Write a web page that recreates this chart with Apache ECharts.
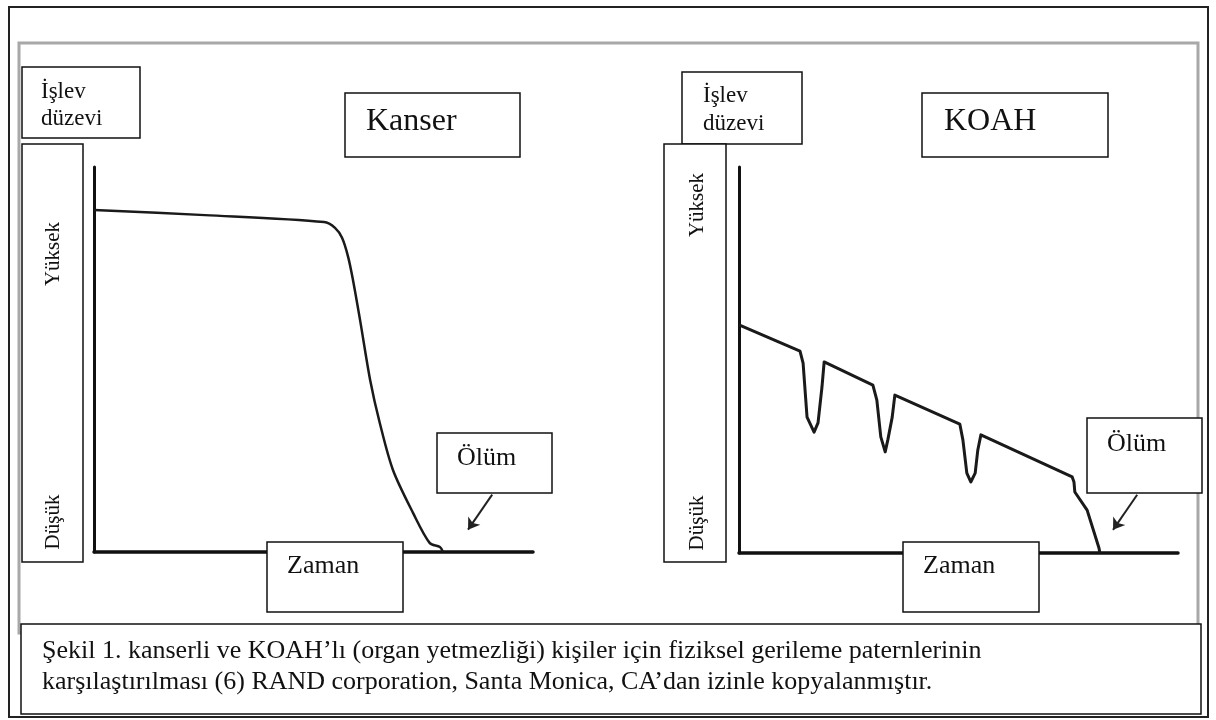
<!DOCTYPE html>
<html>
<head>
<meta charset="utf-8">
<title>Kanser / KOAH</title>
<script src="https://cdn.jsdelivr.net/npm/echarts@6/dist/echarts.min.js"></script>
<style>
  html, body { margin: 0; padding: 0; background: #fff; }
  #main { width: 1216px; height: 720px; }
</style>
</head>
<body>
<div id="main"></div>
<script>
// egriler: zaman (0-100) ve islev duzeyi (0-100)
var kanserZaman = [0, 25.3, 52.4, 54.9, 56.5, 57.9, 59.0, 60.6, 62.9, 65.1, 68.1, 72.7, 76.5, 78.8, 79.5];
var kanserIslev = [88.8, 87.5, 85.7, 84.2, 81.6, 76.6, 70.6, 60.3, 44.7, 33.5, 21.3, 10.1, 2.3, 1.3, 0];

var koahZaman = [0, 13.9, 14.6, 15.5, 17.1, 18.0, 18.9, 19.4, 30.5, 31.4, 32.3, 33.3, 33.9, 34.9, 35.5,
                 50.3, 51.0, 51.9, 52.8, 53.8, 54.4, 55.1, 75.9, 76.3, 76.5, 79.3, 82.0, 82.2];
var koahIslev = [59.1, 52.3, 49.2, 35.2, 31.3, 33.7, 43.0, 49.5, 43.5, 39.6, 30.1, 26.2, 29.3, 35.2, 40.9,
                 33.4, 29.3, 20.7, 18.4, 20.7, 26.7, 30.6, 19.7, 18.4, 15.8, 11.1, 1.3, 0];

// olum oku (baslangic, bitis)
var okZaman = [90.7, 85.2];
var okIslev = [14.9, 5.8];

var baslik = ['Kanser', 'KOAH'];
var altYazi = [
  'Şekil 1. kanserli ve KOAH’lı (organ yetmezliği) kişiler için fiziksel gerileme paternlerinin',
  'karşılaştırılması (6) RAND corporation, Santa Monica, CA’dan izinle kopyalanmıştır.'
];

var SERIF = '"Liberation Serif", "Times New Roman", serif';

function pairs(xs, ys) {
  var out = [];
  for (var i = 0; i < xs.length; i++) out.push([xs[i], ys[i]]);
  return out;
}

function kutu(x, y, w, h) {
  return { type: 'rect', z: 10, shape: { x: x, y: y, width: w, height: h },
           style: { fill: '#fff', stroke: '#111', lineWidth: 1.5 } };
}
function yazi(x, y, t, size, rot) {
  return { type: 'text', z: 11, x: x, y: y, rotation: rot || 0,
           style: { text: t, fill: '#111', font: size + 'px ' + SERIF,
                    textAlign: rot ? 'center' : 'left', align: rot ? 'center' : 'left',
                    textVerticalAlign: 'middle', verticalAlign: 'middle' } };
}

var eksen = function (gi, w) {
  return {
    gridIndex: gi, type: 'value', min: 0, max: 100,
    axisLine: { show: true, onZero: false, lineStyle: { color: '#111', width: w } },
    axisTick: { show: false }, axisLabel: { show: false }, splitLine: { show: false }
  };
};

var option = {
  backgroundColor: '#fff',
  animation: false,
  grid: [
    { left: 94, top: 167, width: 439, height: 385 },
    { left: 739, top: 167, width: 439, height: 386 }
  ],
  xAxis: [eksen(0, 3.5), eksen(1, 3.5)],
  yAxis: [eksen(0, 3), eksen(1, 3)],
  series: [
    {
      type: 'line', xAxisIndex: 0, yAxisIndex: 0, smooth: 0.3, symbol: 'none',
      data: pairs(kanserZaman, kanserIslev),
      lineStyle: { color: '#1a1a1a', width: 2.5 },
      markLine: {
        silent: true, symbol: ['none', 'arrow'], symbolSize: 11, label: { show: false },
        lineStyle: { color: '#222', width: 2, type: 'solid' },
        data: [[{ coord: [okZaman[0], okIslev[0]] }, { coord: [okZaman[1], okIslev[1]] }]]
      }
    },
    {
      type: 'line', xAxisIndex: 1, yAxisIndex: 1, smooth: false, symbol: 'none',
      data: pairs(koahZaman, koahIslev),
      lineStyle: { color: '#1a1a1a', width: 3, join: 'round' },
      markLine: {
        silent: true, symbol: ['none', 'arrow'], symbolSize: 11, label: { show: false },
        lineStyle: { color: '#222', width: 2, type: 'solid' },
        data: [[{ coord: [okZaman[0], okIslev[0] + 0.2] }, { coord: [okZaman[1], okIslev[1] + 0.2] }]]
      }
    }
  ],
  graphic: [
    // cerceveler
    { type: 'rect', z: 5, shape: { x: 9, y: 7, width: 1199, height: 710 },
      style: { fill: 'none', stroke: '#222', lineWidth: 2 } },
    { type: 'rect', z: 5, shape: { x: 19, y: 43, width: 1179, height: 590 },
      style: { fill: 'none', stroke: '#a8a8a8', lineWidth: 3 } },
    kutu(21, 624, 1180, 90),
    yazi(42, 651, altYazi[0], 26),
    yazi(42, 682, altYazi[1], 26),

    // Kanser
    kutu(22, 67, 118, 71),
    yazi(41, 92, 'İşlev', 23),
    yazi(41, 119, 'düzevi', 23),
    kutu(22, 144, 61, 418),
    yazi(53, 254, 'Yüksek', 21, Math.PI / 2),
    yazi(53, 522, 'Düşük', 21, Math.PI / 2),
    kutu(345, 93, 175, 64),
    yazi(366, 122, baslik[0], 32),
    kutu(267, 542, 136, 70),
    yazi(287, 566, 'Zaman', 26),
    kutu(437, 433, 115, 60),
    yazi(457, 458, 'Ölüm', 26),

    // KOAH
    kutu(682, 72, 120, 72),
    yazi(703, 96, 'İşlev', 23),
    yazi(703, 124, 'düzevi', 23),
    kutu(664, 144, 62, 418),
    yazi(697, 205, 'Yüksek', 21, Math.PI / 2),
    yazi(697, 523, 'Düşük', 21, Math.PI / 2),
    kutu(922, 93, 186, 64),
    yazi(944, 122, baslik[1], 32),
    kutu(903, 542, 136, 70),
    yazi(923, 566, 'Zaman', 26),
    kutu(1087, 418, 115, 75),
    yazi(1107, 444, 'Ölüm', 26)
  ]
};

var myChart = echarts.init(document.getElementById('main'));
myChart.setOption(option);
</script>
</body>
</html>
